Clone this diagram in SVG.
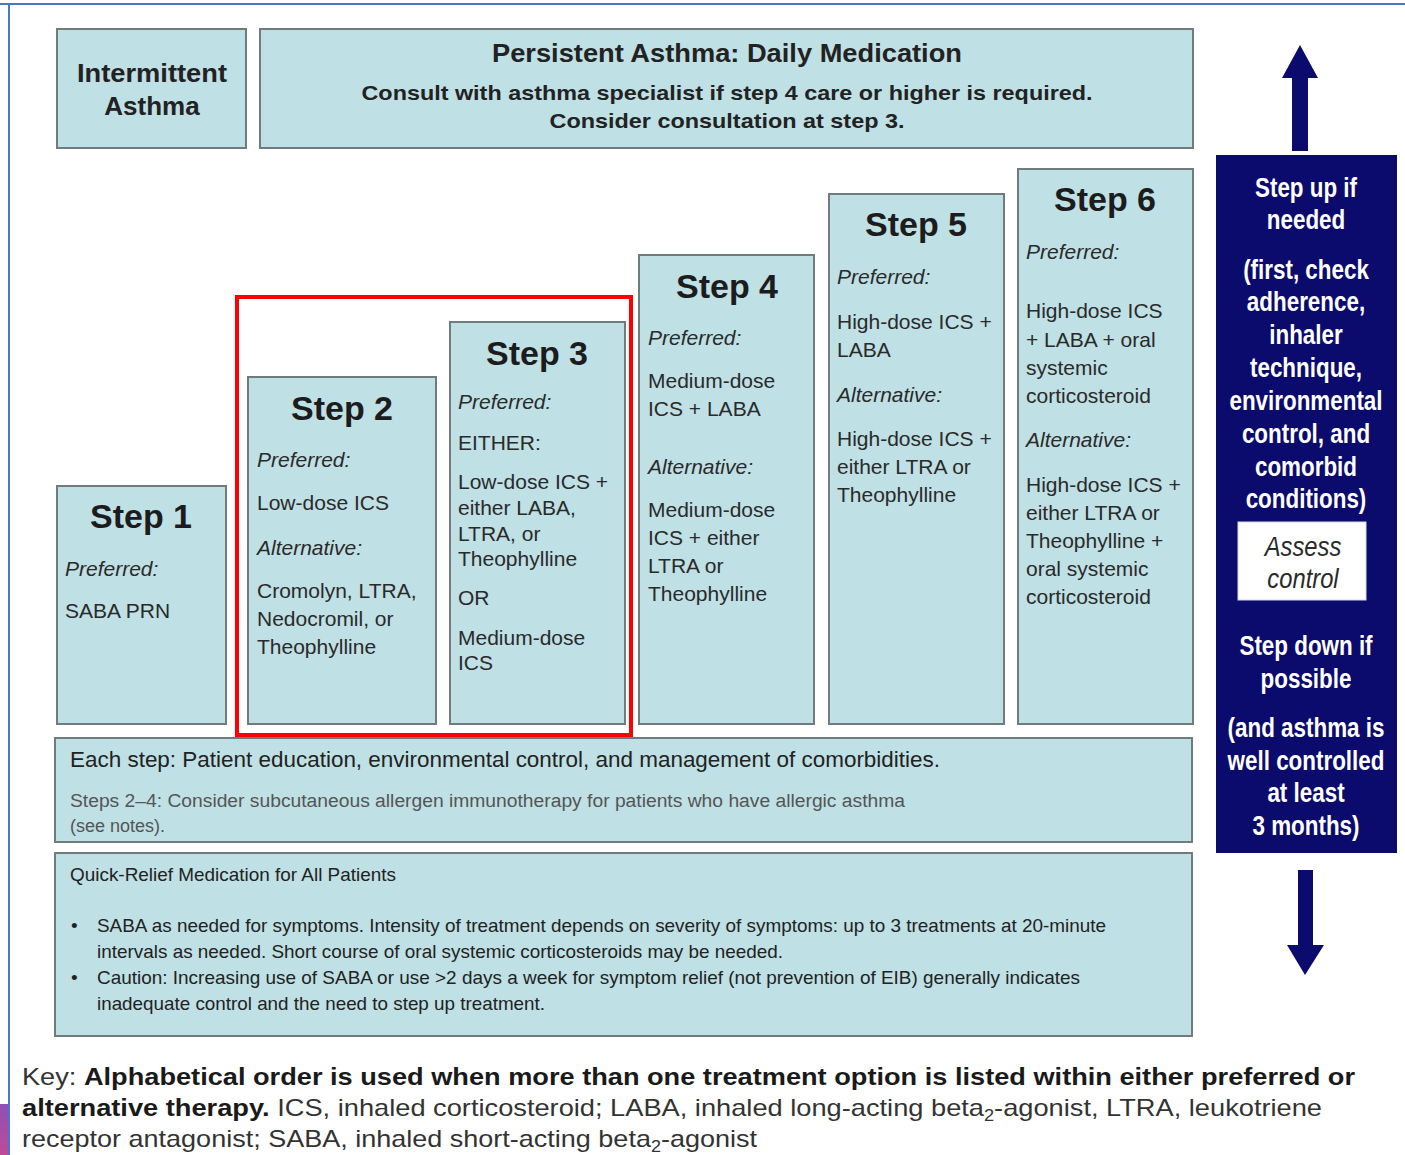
<svg xmlns="http://www.w3.org/2000/svg" width="1405" height="1155" viewBox="0 0 1405 1155">
  <defs>
    <style>
      .box { fill: #bfe0e4; stroke: #6f7b7d; stroke-width: 2; }
      .t { font-family: "Liberation Sans", Arial, sans-serif; fill: #222; }
      .b { font-weight: bold; }
      .i { font-style: italic; }
      .step { font-family: "Liberation Sans", Arial, sans-serif; font-weight: bold; font-size: 34px; fill: #1c1c1c; text-anchor: middle; }
      .body { font-family: "Liberation Sans", Arial, sans-serif; font-size: 21px; fill: #2a2a2a; }
      .navytxt { font-family: "Liberation Sans", Arial, sans-serif; font-weight: bold; font-size: 27px; fill: #ffffff; text-anchor: middle; }
      .navy { fill: #0b0b6e; }
    </style>
    <linearGradient id="corner" x1="0" y1="0" x2="0" y2="1">
      <stop offset="0" stop-color="#8e4fb8"/>
      <stop offset="1" stop-color="#c04a98"/>
    </linearGradient>
  </defs>

  <rect width="1405" height="1155" fill="#ffffff"/>

  <!-- page frame -->
  <line x1="0" y1="4" x2="1405" y2="4" stroke="#4a78c0" stroke-width="2"/>
  <line x1="9" y1="4" x2="9" y2="1155" stroke="#4a78c0" stroke-width="2"/>
  <rect x="0" y="1104" width="8" height="51" fill="url(#corner)"/>

  <!-- header row -->
  <g id="intermittent">
    <rect class="box" x="57" y="29" width="189" height="119"/>
    <text class="t b" x="152" y="82" font-size="26" text-anchor="middle" textLength="150" lengthAdjust="spacingAndGlyphs">Intermittent</text>
    <text class="t b" x="152" y="115" font-size="26" text-anchor="middle">Asthma</text>
  </g>
  <g id="persistent">
    <rect class="box" x="260" y="29" width="933" height="119"/>
    <text class="t b" x="727" y="62" font-size="25" text-anchor="middle" textLength="470" lengthAdjust="spacingAndGlyphs">Persistent Asthma: Daily Medication</text>
    <text class="t b" x="727" y="100" font-size="21" text-anchor="middle" textLength="731" lengthAdjust="spacingAndGlyphs">Consult with asthma specialist if step 4 care or higher is required.</text>
    <text class="t b" x="727" y="128" font-size="21" text-anchor="middle" textLength="355" lengthAdjust="spacingAndGlyphs">Consider consultation at step 3.</text>
  </g>

  <!-- steps -->
  <g id="step1">
    <rect class="box" x="57" y="486" width="169" height="238"/>
    <text class="step" x="141" y="528">Step 1</text>
    <text class="body i" x="65" y="576">Preferred:</text>
    <text class="body" x="65" y="618">SABA PRN</text>
  </g>
  <g id="step2">
    <rect class="box" x="248" y="377" width="188" height="347"/>
    <text class="step" x="342" y="420">Step 2</text>
    <text class="body i" x="257" y="467">Preferred:</text>
    <text class="body" x="257" y="510">Low-dose ICS</text>
    <text class="body i" x="257" y="555">Alternative:</text>
    <text class="body" x="257" y="598">Cromolyn, LTRA,</text>
    <text class="body" x="257" y="626">Nedocromil, or</text>
    <text class="body" x="257" y="654">Theophylline</text>
  </g>
  <g id="step3">
    <rect class="box" x="450" y="322" width="175" height="402"/>
    <text class="step" x="537" y="365">Step 3</text>
    <text class="body i" x="458" y="409">Preferred:</text>
    <text class="body" x="458" y="450">EITHER:</text>
    <text class="body" x="458" y="489">Low-dose ICS +</text>
    <text class="body" x="458" y="515">either LABA,</text>
    <text class="body" x="458" y="541">LTRA, or</text>
    <text class="body" x="458" y="566">Theophylline</text>
    <text class="body" x="458" y="605">OR</text>
    <text class="body" x="458" y="645">Medium-dose</text>
    <text class="body" x="458" y="670">ICS</text>
  </g>
  <g id="step4">
    <rect class="box" x="639" y="255" width="175" height="469"/>
    <text class="step" x="727" y="298">Step 4</text>
    <text class="body i" x="648" y="345">Preferred:</text>
    <text class="body" x="648" y="388">Medium-dose</text>
    <text class="body" x="648" y="416">ICS + LABA</text>
    <text class="body i" x="648" y="474">Alternative:</text>
    <text class="body" x="648" y="517">Medium-dose</text>
    <text class="body" x="648" y="545">ICS + either</text>
    <text class="body" x="648" y="573">LTRA or</text>
    <text class="body" x="648" y="601">Theophylline</text>
  </g>
  <g id="step5">
    <rect class="box" x="829" y="194" width="175" height="530"/>
    <text class="step" x="916" y="236">Step 5</text>
    <text class="body i" x="837" y="284">Preferred:</text>
    <text class="body" x="837" y="329">High-dose ICS +</text>
    <text class="body" x="837" y="357">LABA</text>
    <text class="body i" x="837" y="402">Alternative:</text>
    <text class="body" x="837" y="446">High-dose ICS +</text>
    <text class="body" x="837" y="474">either LTRA or</text>
    <text class="body" x="837" y="502">Theophylline</text>
  </g>
  <g id="step6">
    <rect class="box" x="1018" y="169" width="175" height="555"/>
    <text class="step" x="1105" y="211">Step 6</text>
    <text class="body i" x="1026" y="259">Preferred:</text>
    <text class="body" x="1026" y="318">High-dose ICS</text>
    <text class="body" x="1026" y="347">+ LABA + oral</text>
    <text class="body" x="1026" y="375">systemic</text>
    <text class="body" x="1026" y="403">corticosteroid</text>
    <text class="body i" x="1026" y="447">Alternative:</text>
    <text class="body" x="1026" y="492">High-dose ICS +</text>
    <text class="body" x="1026" y="520">either LTRA or</text>
    <text class="body" x="1026" y="548">Theophylline +</text>
    <text class="body" x="1026" y="576">oral systemic</text>
    <text class="body" x="1026" y="604">corticosteroid</text>
  </g>

  <!-- highlight around steps 2 and 3 -->
  <rect id="highlight" x="237" y="297" width="394" height="438" fill="none" stroke="#ff0000" stroke-width="4"/>

  <!-- shared measures -->
  <g id="each-step">
    <rect class="box" x="55" y="738" width="1137" height="104"/>
    <text class="t" x="70" y="767" font-size="22" textLength="870" lengthAdjust="spacingAndGlyphs">Each step:  Patient education, environmental control, and management of comorbidities.</text>
    <text class="t" x="70" y="807" font-size="18" style="fill:#555" textLength="835" lengthAdjust="spacingAndGlyphs">Steps 2–4: Consider subcutaneous allergen immunotherapy for patients who have allergic asthma</text>
    <text class="t" x="70" y="832" font-size="18" style="fill:#555">(see notes).</text>
  </g>
  <g id="quick-relief">
    <rect class="box" x="55" y="853" width="1137" height="183"/>
    <text class="t" x="70" y="881" font-size="19" textLength="326" lengthAdjust="spacingAndGlyphs">Quick-Relief Medication for All Patients</text>
    <text class="t" x="71" y="932" font-size="19">•</text>
    <text class="t" x="97" y="932" font-size="19" textLength="1009" lengthAdjust="spacingAndGlyphs">SABA as needed for symptoms. Intensity of treatment depends on severity of symptoms: up to 3 treatments at 20-minute</text>
    <text class="t" x="97" y="958" font-size="19" textLength="686" lengthAdjust="spacingAndGlyphs">intervals as needed. Short course of oral systemic corticosteroids may be needed.</text>
    <text class="t" x="71" y="984" font-size="19">•</text>
    <text class="t" x="97" y="984" font-size="19" textLength="983" lengthAdjust="spacingAndGlyphs">Caution: Increasing use of SABA or use &gt;2 days a week for symptom  relief (not prevention of EIB) generally indicates</text>
    <text class="t" x="97" y="1010" font-size="19" textLength="448" lengthAdjust="spacingAndGlyphs">inadequate control and the need to step up treatment.</text>
  </g>

  <!-- step up / step down panel -->
  <g id="step-up-arrow">
    <polygon class="navy" points="1300,45 1318,78 1308,78 1308,151 1292,151 1292,78 1282,78"/>
  </g>
  <g id="adjust-panel">
    <rect class="navy" x="1216" y="155" width="181" height="698"/>
    <g transform="translate(1306,0) scale(0.83,1)">
      <text class="navytxt" x="0" y="197">Step up if</text>
      <text class="navytxt" x="0" y="229">needed</text>
      <text class="navytxt" x="0" y="279">(first, check</text>
      <text class="navytxt" x="0" y="311">adherence,</text>
      <text class="navytxt" x="0" y="344">inhaler</text>
      <text class="navytxt" x="0" y="377">technique,</text>
      <text class="navytxt" x="0" y="410">environmental</text>
      <text class="navytxt" x="0" y="443">control, and</text>
      <text class="navytxt" x="0" y="476">comorbid</text>
      <text class="navytxt" x="0" y="508">conditions)</text>
      <text class="navytxt" x="0" y="655">Step down if</text>
      <text class="navytxt" x="0" y="688">possible</text>
      <text class="navytxt" x="0" y="737">(and asthma is</text>
      <text class="navytxt" x="0" y="770">well controlled</text>
      <text class="navytxt" x="0" y="802">at least</text>
      <text class="navytxt" x="0" y="835">3 months)</text>
    </g>
    <g id="assess-control">
      <rect x="1238" y="522" width="128" height="78" fill="#ffffff" stroke="#d8d8e8" stroke-width="1"/>
      <g transform="translate(1303,0) scale(0.88,1)">
        <text x="0" y="556" font-family="Liberation Sans, Arial, sans-serif" font-style="italic" font-size="27" fill="#2a2a2a" text-anchor="middle">Assess</text>
        <text x="0" y="588" font-family="Liberation Sans, Arial, sans-serif" font-style="italic" font-size="27" fill="#2a2a2a" text-anchor="middle">control</text>
      </g>
    </g>
  </g>
  <g id="step-down-arrow">
    <polygon class="navy" points="1298,870 1313,870 1313,945 1324,945 1305,975 1287,945 1298,945"/>
  </g>

  <!-- key -->
  <g id="key">
    <text class="t" x="22" y="1085" font-size="24" style="fill:#333" textLength="1333" lengthAdjust="spacingAndGlyphs">Key:  <tspan font-weight="bold" style="fill:#1a1a1a">Alphabetical order is used when more than one treatment option is listed within either preferred or</tspan></text>
    <text class="t" x="22" y="1116" font-size="24" style="fill:#333" textLength="1300" lengthAdjust="spacingAndGlyphs"><tspan font-weight="bold" style="fill:#1a1a1a">alternative therapy.</tspan>  ICS, inhaled corticosteroid; LABA, inhaled long-acting beta<tspan font-size="16" dy="5">2</tspan><tspan dy="-5">-agonist, LTRA, leukotriene</tspan></text>
    <text class="t" x="22" y="1147" font-size="24" style="fill:#333" textLength="735" lengthAdjust="spacingAndGlyphs">receptor antagonist; SABA, inhaled short-acting beta<tspan font-size="16" dy="5">2</tspan><tspan dy="-5">-agonist</tspan></text>
  </g>
</svg>
